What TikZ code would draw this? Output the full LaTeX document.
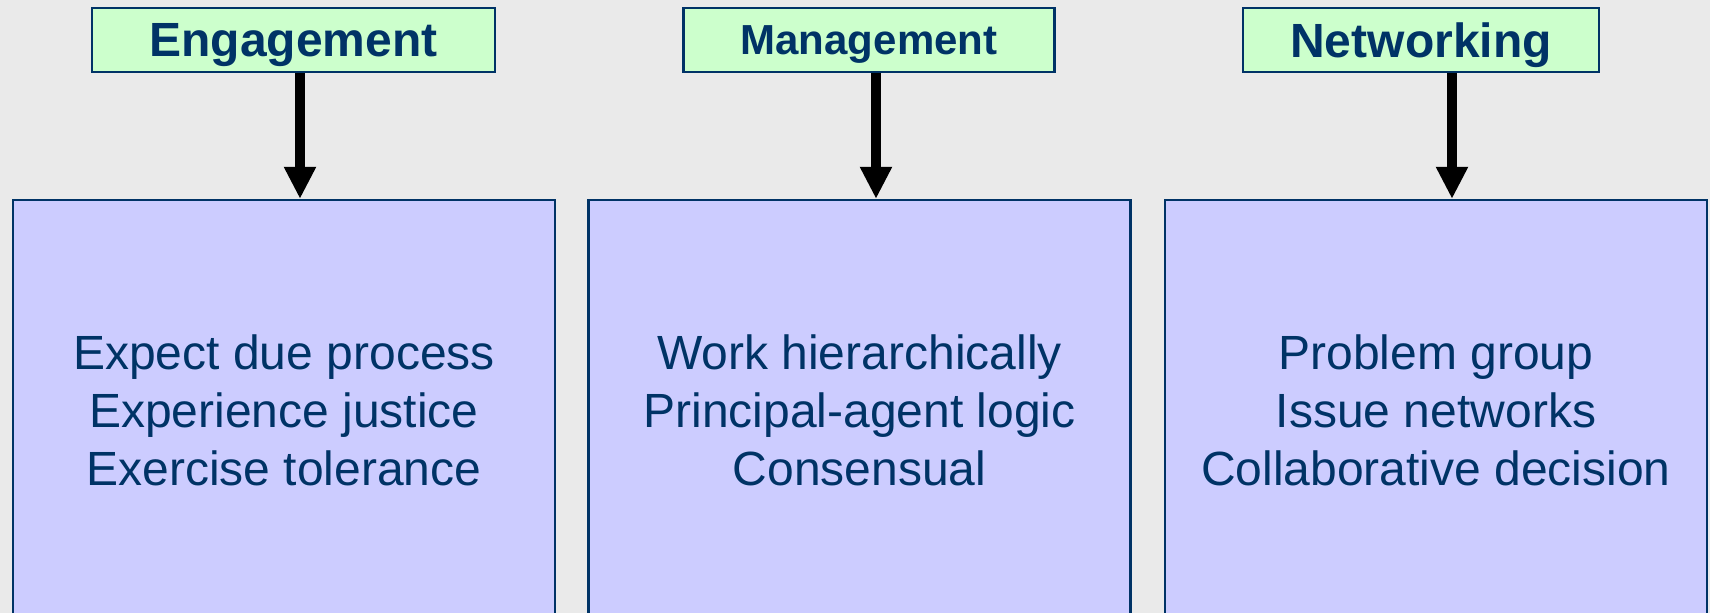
\documentclass[tikz,border=0pt]{standalone}
\usepackage{fontspec}
\setmainfont{Liberation Sans}
\usetikzlibrary{arrows.meta,positioning}
\definecolor{navy}{HTML}{003366}
\definecolor{mint}{HTML}{CCFFCC}
\definecolor{lilac}{HTML}{CCCCFF}
\definecolor{slide}{HTML}{EAEAEA}
\tikzset{
chart/.style={x=0.5pt,y=-0.5pt,>={Triangle[width=15pt,length=16pt]}},
head/.style={rectangle,draw=navy,line width=1.1pt,fill=mint,text=navy,
minimum height=32pt,inner sep=0pt,text depth=0pt,
font=\fontsize{24}{29}\selectfont\bfseries},
panel/.style={rectangle,draw=navy,line width=1.1pt,fill=lilac,text=navy,
minimum width=271pt,minimum height=210pt,align=center,
font=\fontsize{24}{29}\selectfont},
flow/.style={->,line width=5pt,black},
}

\begin{document}
\begin{tikzpicture}[chart]
\clip (0,0) rectangle (1710,613);
\fill[slide] (0,0) rectangle (1710,613);

% three headings
\node[head,minimum width=201.5pt] (eng) at (293.5,40) {Engagement};
\node[head,minimum width=185.5pt,font=\fontsize{21}{25}\selectfont\bfseries] (man) at (869,40) {Management};
\node[head,minimum width=178pt] (net) at (1421,40) {Networking};

% three panels
\node[panel] (due) at (284,410) {Expect due process\\Experience justice\\Exercise tolerance};
\node[panel] (work) at (859.5,410) {Work hierarchically\\Principal-agent logic\\Consensual};
\node[panel] (prob) at (1436,410) {Problem group\\Issue networks\\Collaborative decision};

\coordinate (ax1) at (300,0);
\coordinate (ax2) at (876,0);
\coordinate (ax3) at (1452,0);
\draw[flow] (eng.south -| ax1) -- (due.north -| ax1);
\draw[flow] (man.south -| ax2) -- (work.north -| ax2);
\draw[flow] (net.south -| ax3) -- (prob.north -| ax3);
\end{tikzpicture}
\end{document}
